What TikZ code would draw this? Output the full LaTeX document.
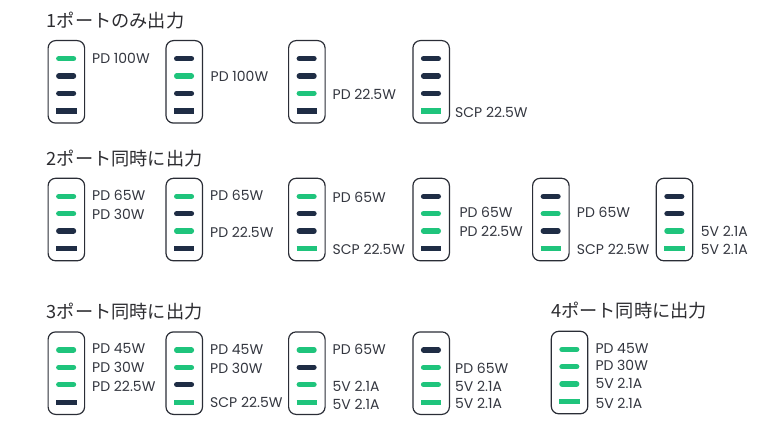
\documentclass[tikz,border=0pt]{standalone}
\usepackage{fontspec}
\setmainfont{Poppins}[FontFace={m}{n}{Font=* Medium}]
\newfontfamily\jpfont{Noto Sans CJK JP}
\definecolor{portgreen}{HTML}{1FC47C}
\definecolor{portdark}{HTML}{1F2D45}
\definecolor{framecol}{HTML}{2A2D36}
\definecolor{labelcol}{HTML}{33363F}
\definecolor{titlecol}{HTML}{2C2C30}
\tikzset{
  devbox/.style={draw=framecol,line width=1.2pt,rounded corners=7.5pt,minimum width=36.5pt,minimum height=82.5pt,inner sep=0pt,anchor=north west,fill=white},
  cport/.style={line width=5.4pt,line cap=round},
  aport/.style={line width=5.4pt,line cap=butt},
  lab/.style={anchor=west,inner sep=0pt,text=labelcol,font=\fontsize{14}{14}\selectfont,text height=11pt,text depth=0pt},
  ttl/.style={anchor=west,inner sep=0pt,text=titlecol,font=\jpfont\fontsize{18.2}{19}\selectfont,text height=13.4pt,text depth=0pt},
  G/.style={draw=portgreen},
  D/.style={draw=portdark}
}
\newcommand{\device}[7]{%
  \node[devbox] (#1) at (#2,#3) {};
  \draw[cport,#4] ([shift={(11.3,18.7)}]#2,#3) -- ([shift={(26,18.7)}]#2,#3);
  \draw[cport,#5] ([shift={(11.3,36)}]#2,#3) -- ([shift={(26,36)}]#2,#3);
  \draw[cport,#6] ([shift={(11.3,53.3)}]#2,#3) -- ([shift={(26,53.3)}]#2,#3);
  \draw[aport,#7] ([shift={(8.7,71)}]#2,#3) -- ([shift={(29,71)}]#2,#3);
}
\newcommand{\lbl}[4]{\node[lab] (#1) at (#2,#3) {#4};}
\begin{document}
\begin{tikzpicture}[x=1pt,y=-1pt]
\useasboundingbox (0,0) rectangle (780,433);
\node[ttl] (t1) at (46.5,21) {1ポートのみ出力};
\node[ttl] (t2) at (46.5,159) {2ポート同時に出力};
\node[ttl] (t3) at (46.5,311.5) {3ポート同時に出力};
\node[ttl] (t4) at (551,311) {4ポート同時に出力};
% row 1
\device{a1}{47.5}{40}{G}{D}{D}{D}
\device{a2}{165.4}{40}{D}{G}{D}{D}
\device{a3}{288}{40}{D}{D}{G}{D}
\device{a4}{412.3}{40}{D}{D}{D}{G}
\lbl{la1}{92}{58}{PD 100W}
\lbl{la2}{210.5}{76}{PD 100W}
\lbl{la3}{332.5}{94}{PD 22.5W}
\lbl{la4}{455}{111.7}{SCP 22.5W}
% row 2
\device{b1}{47.5}{177.7}{G}{G}{D}{D}
\device{b2}{165.4}{177.7}{G}{D}{G}{D}
\device{b3}{288}{177.7}{G}{D}{D}{G}
\device{b4}{412.3}{177.7}{D}{G}{G}{D}
\device{b5}{532}{177.7}{D}{G}{D}{G}
\device{b6}{655.7}{177.7}{D}{D}{G}{G}
\lbl{lb1a}{92}{194.7}{PD 65W}
\lbl{lb1b}{92}{214.3}{PD 30W}
\lbl{lb2a}{210}{194.7}{PD 65W}
\lbl{lb2b}{210}{232}{PD 22.5W}
\lbl{lb3a}{332.5}{196.7}{PD 65W}
\lbl{lb3b}{332.5}{249}{SCP 22.5W}
\lbl{lb4a}{459.3}{212}{PD 65W}
\lbl{lb4b}{459.3}{231.3}{PD 22.5W}
\lbl{lb5a}{576.7}{212}{PD 65W}
\lbl{lb5b}{576.7}{249.3}{SCP 22.5W}
\lbl{lb6a}{700.7}{231.3}{5V 2.1A}
\lbl{lb6b}{700.7}{249.3}{5V 2.1A}
% row 3
\device{c1}{47.5}{331.3}{G}{G}{G}{D}
\device{c2}{165.4}{331.3}{G}{G}{D}{G}
\device{c3}{288}{331.3}{G}{D}{G}{G}
\device{c4}{412.3}{331.3}{D}{G}{G}{G}
\device{d1}{550.7}{330.7}{G}{G}{G}{G}
\lbl{lc1a}{92}{348.3}{PD 45W}
\lbl{lc1b}{92}{367.3}{PD 30W}
\lbl{lc1c}{92}{385.7}{PD 22.5W}
\lbl{lc2a}{210}{349}{PD 45W}
\lbl{lc2b}{210}{368}{PD 30W}
\lbl{lc2c}{210}{402.3}{SCP 22.5W}
\lbl{lc3a}{332.5}{349.3}{PD 65W}
\lbl{lc3b}{332.5}{385.7}{5V 2.1A}
\lbl{lc3c}{332.5}{403.7}{5V 2.1A}
\lbl{lc4a}{455}{367.7}{PD 65W}
\lbl{lc4b}{455}{385.7}{5V 2.1A}
\lbl{lc4c}{455}{403}{5V 2.1A}
\lbl{ld1}{595.3}{347.7}{PD 45W}
\lbl{ld2}{595.3}{365.3}{PD 30W}
\lbl{ld3}{595.3}{383.3}{5V 2.1A}
\lbl{ld4}{595.3}{403.3}{5V 2.1A}
\end{tikzpicture}
\end{document}
